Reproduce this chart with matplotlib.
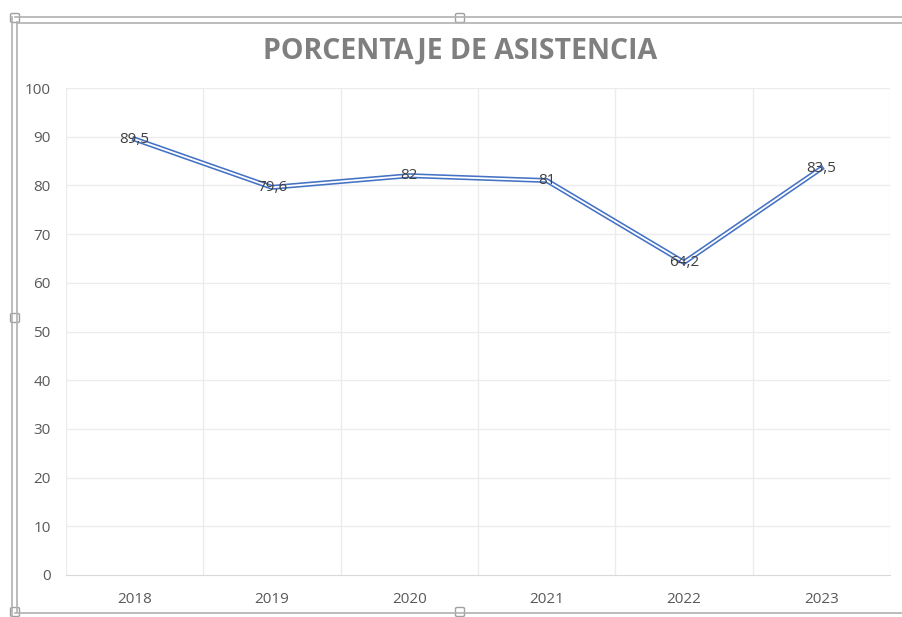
import matplotlib
matplotlib.use("Agg")
import matplotlib.pyplot as plt
from matplotlib.lines import Line2D
from matplotlib.patches import FancyBboxPatch

years = ["2018", "2019", "2020", "2021", "2022", "2023"]
values = [89.5, 79.6, 82, 81, 64.2, 83.5]
labels = ["89,5", "79,6", "82", "81", "64,2", "83,5"]
yticks = [0, 10, 20, 30, 40, 50, 60, 70, 80, 90, 100]

plt.rcParams['font.family'] = ['Open Sans', 'DejaVu Sans']

W, H = 903, 617
fig = plt.figure(figsize=(W / 100, H / 100), dpi=100)
fig.patch.set_facecolor("white")

ax = fig.add_axes([66 / W, 42 / H, (890 - 66) / W, (575 - 88) / H])
x = list(range(len(years)))
ax.set_xlim(-0.5, len(years) - 0.5)
ax.set_ylim(0, 100)
ax.set_yticks(yticks)
ax.set_xticks(x)
ax.set_xticklabels(years)

# gridlines
for yv in yticks[1:]:
    ax.axhline(yv, color="#ececec", lw=1, zorder=0)
for b in [i + 0.5 for i in range(len(years) - 1)]:
    ax.axvline(b, color="#ececec", lw=1, zorder=0)
ax.axvline(-0.5, color="#ececec", lw=1, zorder=0)
ax.axvline(len(years) - 0.5, color="#ececec", lw=1, zorder=0)

for s in ["top", "right", "left"]:
    ax.spines[s].set_visible(False)
ax.spines["bottom"].set_color("#d9d9d9")
ax.tick_params(axis="both", length=0, colors="#595959", labelsize=11)
ax.tick_params(axis="x", pad=12)
ax.tick_params(axis="y", pad=11)
for t in ax.get_yticklabels():
    t.set_horizontalalignment("right")

# double line
ax.plot(x, values, color="#4472C4", lw=3.6, solid_joinstyle="miter", zorder=3)
ax.plot(x, values, color="white", lw=1.3, solid_joinstyle="miter", zorder=4)

for xi, v, lab in zip(x, values, labels):
    ax.text(xi, v, lab, ha="center", va="center", fontsize=11, color="#404040", zorder=5)

fig.text(460 / W, 1 - 51 / H, "PORCENTAJE DE ASISTENCIA", ha="center", va="center",
         fontsize=20.5, fontweight="bold", color="#7f7f7f")

# selection frame (double border)
def hline(y, x0, x1):
    fig.add_artist(Line2D([x0 / W, x1 / W], [1 - y / H, 1 - y / H], color="#b0b0b0", lw=1.2))
def vline(xp, y0, y1):
    fig.add_artist(Line2D([xp / W, xp / W], [1 - y0 / H, 1 - y1 / H], color="#b0b0b0", lw=1.2))

hline(17, 15, W)
hline(22.5, 17, W)
vline(12.5, 17, H)
vline(17, 22, 612)
hline(612.5, 15, W)

for (hx, hy) in [(15, 18), (460, 18), (15, 318), (15, 612), (460, 612)]:
    fig.add_artist(FancyBboxPatch(((hx - 4.5) / W, 1 - (hy + 4.5) / H), 9 / W, 9 / H,
                                  boxstyle="round,pad=0,rounding_size=0.002",
                                  facecolor="white", edgecolor="#a0a0a0", lw=1,
                                  transform=fig.transFigure))

fig.savefig("out.png", dpi=100)
